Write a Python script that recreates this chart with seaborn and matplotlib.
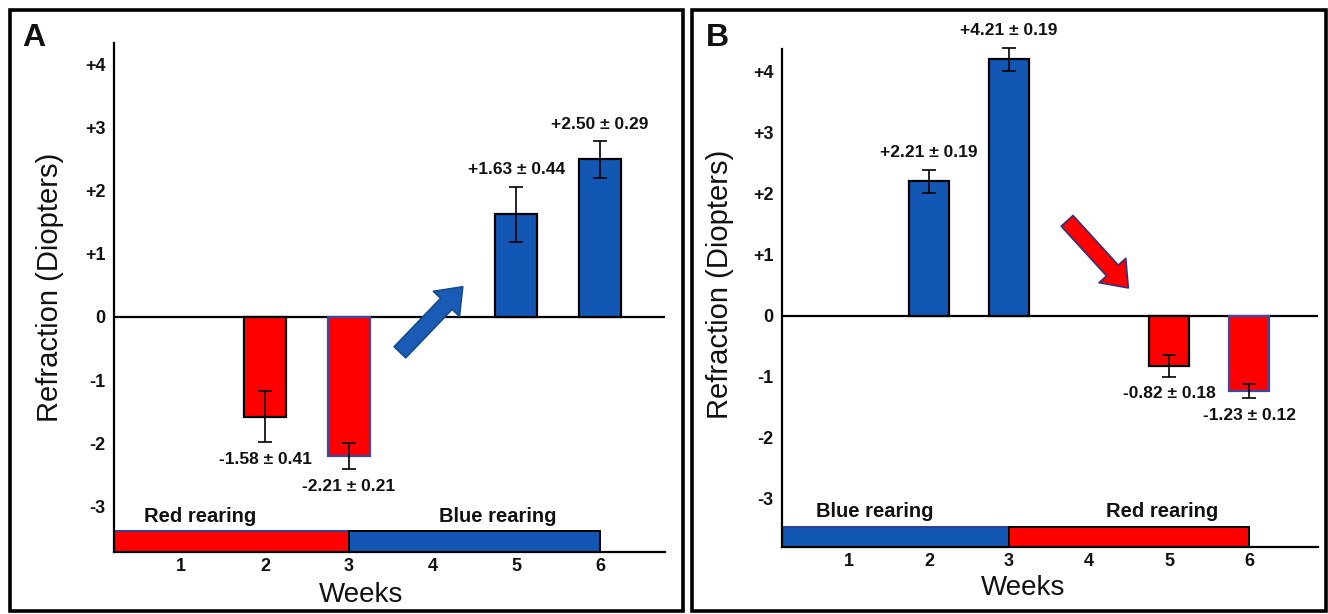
import matplotlib
matplotlib.use("Agg")
import matplotlib.pyplot as plt
from matplotlib.patches import Rectangle
import pandas as pd
import seaborn as sns

# ---- data -------------------------------------------------------------
week_ticks = [1, 2, 3, 4, 5, 6]
y_tick_values = [4, 3, 2, 1, 0, -1, -2, -3]
y_tick_labels = ["+4", "+3", "+2", "+1", "0", "-1", "-2", "-3"]

RED = "#FF0000"
BLUE = "#1257B4"

# Panel A: red rearing (weeks 0-3) then blue rearing (weeks 3-6)
a_weeks = [2, 3, 5, 6]
a_means = [-1.58, -2.21, 1.63, 2.50]
a_sems = [0.41, 0.21, 0.44, 0.29]
a_colors = [RED, RED, BLUE, BLUE]
a_edges = ["black", "#3a4aa0", "black", "black"]
a_phases = ["Red rearing", "Blue rearing"]
a_phase_start = [0, 3]
a_phase_end = [3, 6]
a_phase_colors = [RED, BLUE]

# Panel B: blue rearing (weeks 0-3) then red rearing (weeks 3-6)
b_weeks = [2, 3, 5, 6]
b_means = [2.21, 4.21, -0.82, -1.23]
b_sems = [0.19, 0.19, 0.18, 0.12]
b_colors = [BLUE, BLUE, RED, RED]
b_edges = ["black", "black", "black", "#3a4aa0"]
b_phases = ["Blue rearing", "Red rearing"]
b_phase_start = [0, 3]
b_phase_end = [3, 6]
b_phase_colors = [BLUE, RED]

# ---- style ------------------------------------------------------------
sns.set_theme(style="white")
plt.rcParams["font.family"] = ["Liberation Sans", "DejaVu Sans"]

fig = plt.figure(figsize=(13.28, 6.14), dpi=100)

W, H = 1328, 614


def px_rect(left, top, right, bottom):
    return [left / W, 1 - bottom / H, (right - left) / W, (bottom - top) / H]


def draw_panel(ax, weeks, means, sems, colors, edges, phases, p_start, p_end,
               p_colors, xlim, ylim, band_top, phase_label_x, phase_label_y,
               arrow_tail, arrow_tip, arrow_color, arrow_edge):
    df = pd.DataFrame({"week": weeks, "value": means})
    sns.barplot(data=df, x="week", y="value", hue="week",
                palette=dict(zip(weeks, colors)), native_scale=True,
                width=0.5, dodge=False, legend=False, errorbar=None,
                saturation=1, linewidth=1.6, edgecolor="black", ax=ax,
                zorder=2)
    for patch, ec in zip(ax.patches, edges):
        patch.set_edgecolor(ec)

    eb = ax.errorbar(weeks, means, yerr=sems, fmt="none", ecolor="black",
                     elinewidth=1.2, capsize=5, capthick=1.2, zorder=3)
    for artist in eb.lines[1] + eb.lines[2]:
        artist.set_clip_on(False)

    for w, m, s in zip(weeks, means, sems):
        sign = 1 if m >= 0 else -1
        ax.annotate(f"{m:+.2f} \u00b1 {s:.2f}", xy=(w, m + sign * s),
                    xytext=(0, sign * 12), textcoords="offset points",
                    ha="center", va="center", fontsize=12.5,
                    fontweight="bold", color="#111111",
                    annotation_clip=False)

    ax.axhline(0, color="black", lw=1.6, zorder=1)

    # rearing timeline along the bottom of the axis
    ax.barh(y=(ylim[0] + band_top) / 2,
            width=[e - s for s, e in zip(p_start, p_end)],
            left=p_start, height=band_top - ylim[0], color=p_colors,
            edgecolor=["#2f3f8f", "black"], linewidth=1.4, zorder=2)
    for name, lx in zip(phases, phase_label_x):
        ax.text(lx, phase_label_y, name, ha="center", va="center",
                fontsize=14.5, fontweight="bold", color="#111111")

    ax.annotate("", xy=arrow_tip, xytext=arrow_tail,
                arrowprops=dict(arrowstyle="simple,head_length=1.7,head_width=2.6,tail_width=1.15",
                                mutation_scale=10, fc=arrow_color, ec=arrow_edge,
                                lw=1.2, shrinkA=0, shrinkB=0), zorder=4)

    ax.set_xlim(*xlim)
    ax.set_ylim(*ylim)
    ax.set_xticks(week_ticks)
    ax.set_xticklabels([str(w) for w in week_ticks], fontsize=13,
                       fontweight="bold")
    ax.set_yticks(y_tick_values)
    ax.set_yticklabels(y_tick_labels, fontsize=13, fontweight="bold")
    ax.tick_params(axis="x", length=0, pad=4, colors="#111111")
    ax.tick_params(axis="y", length=0, pad=6, colors="#111111")

    for side in ("top", "right"):
        ax.spines[side].set_visible(False)
    for side in ("left", "bottom"):
        ax.spines[side].set_color("black")
        ax.spines[side].set_linewidth(1.6)

    ax.set_xlabel("Weeks", fontsize=20, color="#111111")
    ax.set_ylabel("Refraction (Diopters)", fontsize=21, color="#111111")
    ax.xaxis.label.set_va("center")
    ax.yaxis.label.set_va("center")


# Panel A
ax_a = fig.add_axes(px_rect(114, 43, 665, 552))
draw_panel(ax_a, a_weeks, a_means, a_sems, a_colors, a_edges, a_phases,
           a_phase_start, a_phase_end, a_phase_colors,
           xlim=(0.196, 6.775), ylim=(-3.730, 4.349), band_top=-3.40,
           phase_label_x=[1.22, 4.78], phase_label_y=-3.17,
           arrow_tail=(3.61, -0.56), arrow_tip=(4.36, 0.48),
           arrow_color="#1A5BB5", arrow_edge="#174a8c")
ax_a.xaxis.set_label_coords(0.448, -0.084)
ax_a.yaxis.set_label_coords(-0.116, 0.519)

# Panel B
ax_b = fig.add_axes(px_rect(782, 49, 1318, 547))
draw_panel(ax_b, b_weeks, b_means, b_sems, b_colors, b_edges, b_phases,
           b_phase_start, b_phase_end, b_phase_colors,
           xlim=(0.1625, 6.86), ylim=(-3.787, 4.377), band_top=-3.46,
           phase_label_x=[1.32, 4.91], phase_label_y=-3.21,
           arrow_tail=(3.725, 1.56), arrow_tip=(4.49, 0.46),
           arrow_color=RED, arrow_edge="#33337a")
ax_b.xaxis.set_label_coords(0.45, -0.083)
ax_b.yaxis.set_label_coords(-0.116, 0.528)

# panel frames and letters
fig.add_artist(Rectangle((10 / W, 1 - 611 / H), 673 / W, 601 / H,
                         transform=fig.transFigure, fill=False,
                         ec="black", lw=2.6))
fig.add_artist(Rectangle((692 / W, 1 - 611 / H), 634 / W, 601 / H,
                         transform=fig.transFigure, fill=False,
                         ec="black", lw=2.6))
fig.text(22 / W, 1 - 46 / H, "A", ha="left", va="baseline", fontsize=23,
         fontweight="bold", color="#111111")
fig.text(706 / W, 1 - 46 / H, "B", ha="left", va="baseline", fontsize=23,
         fontweight="bold", color="#111111")

fig.savefig("out.png", dpi=100)
